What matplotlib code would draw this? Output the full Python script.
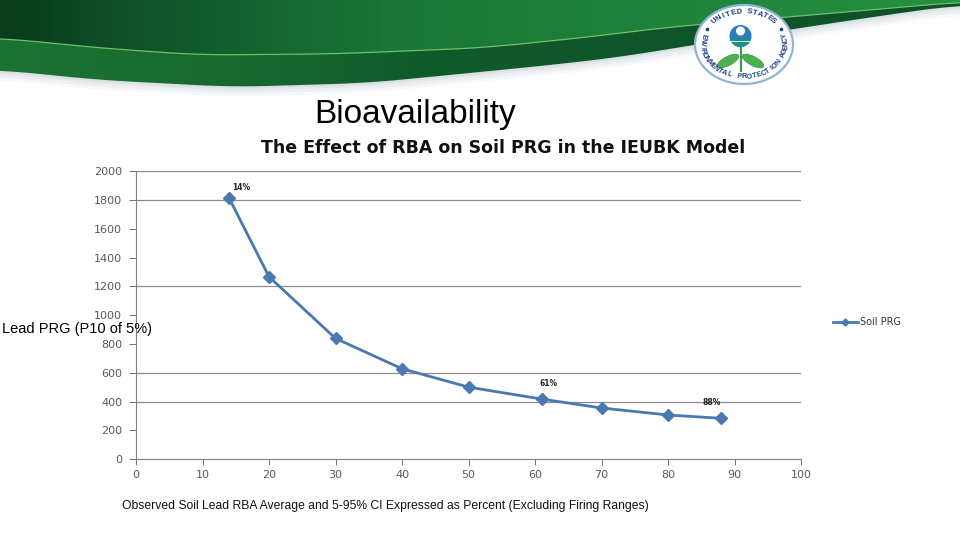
import matplotlib

matplotlib.use("Agg")

import matplotlib.pyplot as plt
import numpy as np
from matplotlib.colors import LinearSegmentedColormap
from matplotlib.patches import Circle, Ellipse, Polygon, Rectangle

plt.rcParams["font.family"] = ["Liberation Sans", "DejaVu Sans"]

# data
rba_pct = [14, 20, 30, 40, 50, 61, 70, 80, 88]
soil_prg = [1815, 1268, 839, 628, 500, 417, 355, 306, 283]
labelled_points = {14: "14%", 61: "61%", 88: "88%"}
x_ticks = list(range(0, 101, 10))
y_ticks = list(range(0, 2001, 200))
shown_gridlines = [400, 600, 1200, 1800, 2000]

# label offsets in points (styling only)
label_offsets = {14: (8.5, 7.5), 61: (5, 11.5), 88: (-7, 11.5)}

LINE_COLOUR = "#4a78b0"
GRID_COLOUR = "#8c8c8c"
TICK_COLOUR = "#5a5a5a"
SEAL_BLUE = "#1f3f8a"


def smooth_curve(xs, anchor_x, anchor_y, width=31):
    raw = np.interp(xs, anchor_x, anchor_y)
    pad = width // 2
    padded = np.r_[np.full(pad, raw[0]), raw, np.full(pad, raw[-1])]
    return np.convolve(padded, np.ones(width) / width, mode="valid")


fig = plt.figure(figsize=(9.6, 5.4), dpi=100)
fig.patch.set_facecolor("white")

# background layer in pixel coordinates (y from top)
bg = fig.add_axes([0, 0, 1, 1], zorder=0)
bg.axis("off")

xs = np.linspace(0, 960, 400)
light_edge = smooth_curve(xs, [0, 100, 200, 330, 480, 580, 670, 800, 960], [38, 48, 55, 54, 48, 38, 27, 16, 2])
dark_edge = smooth_curve(xs, [0, 100, 233, 367, 480, 560, 620, 700, 800, 900, 960],
                         [70, 80, 87, 83, 72, 64, 57, 44, 28, 13, 5])

for shift, alpha in [(10, 0.15), (7, 0.2), (4, 0.3), (2, 0.35)]:
    bg.add_patch(Polygon(np.column_stack([np.r_[xs, xs[::-1]], np.r_[dark_edge + shift, np.zeros_like(xs)]]),
                         closed=True, facecolor="#c9d3da", edgecolor="none", alpha=alpha, zorder=1))

upper_cmap = LinearSegmentedColormap.from_list(
    "upper", [(0, "#093b1c"), (0.15, "#0f5429"), (0.4, "#1a7536"), (0.7, "#1f833c"), (1, "#26903f")])
lower_cmap = LinearSegmentedColormap.from_list(
    "lower", [(0, "#1c7434"), (0.25, "#17682f"), (0.45, "#115a2b"), (0.7, "#0f552a"), (1, "#0e5228")])
grad = np.linspace(0, 1, 256).reshape(1, -1)

lower_poly = Polygon(np.column_stack([np.r_[xs, xs[::-1]], np.r_[dark_edge, np.zeros_like(xs)]]),
                     closed=True, facecolor="none", edgecolor="none")
bg.add_patch(lower_poly)
lower_img = bg.imshow(grad, cmap=lower_cmap, extent=(0, 960, 100, 0), aspect="auto", zorder=2)
lower_img.set_clip_path(lower_poly)

upper_poly = Polygon(np.column_stack([np.r_[xs, xs[::-1]], np.r_[light_edge, np.zeros_like(xs)]]),
                     closed=True, facecolor="none", edgecolor="none")
bg.add_patch(upper_poly)
upper_img = bg.imshow(grad, cmap=upper_cmap, extent=(0, 960, 100, 0), aspect="auto", zorder=3)
upper_img.set_clip_path(upper_poly)
bg.plot(xs, light_edge, color="#6fbf6a", linewidth=0.9, zorder=4)

bg.set_xlim(0, 960)
bg.set_ylim(540, 0)

# EPA seal
cx, cy, rx, ry = 744, 44.5, 49, 39.5
bg.add_patch(Ellipse((cx, cy), 2 * rx, 2 * ry, facecolor="white", edgecolor="#8fb4dc", linewidth=1.6, zorder=5))
bg.add_patch(Circle((740.5, 36), 11, facecolor="#2b7cc4", edgecolor="none", zorder=6))
bg.add_patch(Circle((740.5, 31), 4.5, facecolor="white", edgecolor="none", zorder=7))
water = Rectangle((729, 38), 24, 10, facecolor="#1c8f8a", edgecolor="none", zorder=7)
bg.add_patch(water)
water.set_clip_path(Circle((740.5, 36), 11, transform=bg.transData))
bg.plot([731, 750], [41, 41], color="white", linewidth=0.6, zorder=8)
bg.add_patch(Ellipse((728, 61), 24, 9, angle=-28, facecolor="#4caf50", edgecolor="#2e8b3e", linewidth=0.4, zorder=6))
bg.add_patch(Ellipse((753, 61), 24, 9, angle=28, facecolor="#4caf50", edgecolor="#2e8b3e", linewidth=0.4, zorder=6))
bg.plot([740.5, 740.5], [47, 71], color="#3d9e45", linewidth=1.6, zorder=6)

ar, br = rx - 7, ry - 7
top_text = "UNITED STATES"
for k, ch in enumerate(top_text):
    ang = np.deg2rad(134 - k * (88 / (len(top_text) - 1)))
    bg.text(cx + ar * np.cos(ang), cy - br * np.sin(ang), ch, fontsize=5.6, color=SEAL_BLUE,
            rotation=np.rad2deg(ang) - 90, ha="center", va="center", fontweight="bold", zorder=8)
bottom_text = "ENVIRONMENTAL PROTECTION AGENCY"
for k, ch in enumerate(bottom_text):
    ang = np.deg2rad(164 + k * (212 / (len(bottom_text) - 1)))
    bg.text(cx + ar * np.cos(ang), cy - br * np.sin(ang), ch, fontsize=5.2, color=SEAL_BLUE,
            rotation=np.rad2deg(ang) + 90, ha="center", va="center", fontweight="bold", zorder=8)
for ang in np.deg2rad([151, 29]):
    bg.plot(cx + ar * np.cos(ang), cy - br * np.sin(ang), "o", color=SEAL_BLUE, markersize=1.6, zorder=8)

fig.text(415 / 960, 1 - 114 / 540, "Bioavailability", fontsize=24, ha="center", va="center")
fig.text(503 / 960, 1 - 148 / 540, "The Effect of RBA on Soil PRG in the IEUBK Model",
         fontsize=12.5, fontweight="bold", ha="center", va="center", color="#111111",
         family="DejaVu Sans")

ax = fig.add_axes([136 / 960, 1 - 459 / 540, (801 - 136) / 960, (459 - 171.5) / 540], zorder=2)
ax.patch.set_alpha(0)
ax.plot(rba_pct, soil_prg, color=LINE_COLOUR, linewidth=2, marker="D", markersize=6.5,
        markerfacecolor=LINE_COLOUR, markeredgecolor=LINE_COLOUR, label="Soil PRG", zorder=3)
for x, y in zip(rba_pct, soil_prg):
    if x in labelled_points:
        ax.annotate(labelled_points[x], (x, y), xytext=label_offsets[x], textcoords="offset points",
                    fontsize=5.5, ha="center", va="center", color="#222222",
                    family="DejaVu Sans", fontweight="bold")

ax.set_xlim(0, 100)
ax.set_ylim(0, 2000)
ax.set_xticks(x_ticks)
ax.set_yticks(y_ticks)
ax.yaxis.grid(True, color=GRID_COLOUR, linewidth=0.9)
for tick_value, line in zip(y_ticks, ax.get_ygridlines()):
    line.set_visible(tick_value in shown_gridlines)
ax.set_axisbelow(True)
ax.tick_params(axis="both", labelsize=8, colors=TICK_COLOUR, length=4, width=0.6, direction="out")
ax.tick_params(axis="y", length=5, pad=5)
ax.tick_params(axis="x", pad=4)
for lbl in ax.get_xticklabels() + ax.get_yticklabels():
    lbl.set_family("DejaVu Sans")
for side in ["top", "right"]:
    ax.spines[side].set_visible(False)
for side in ["left", "bottom"]:
    ax.spines[side].set_color("#808080")
    ax.spines[side].set_linewidth(0.8)

fig.text(2 / 960, 1 - 329 / 540, "Lead PRG (P10 of 5%)", fontsize=10.5, ha="left", va="center", zorder=5)
fig.text(385 / 960, 1 - 506 / 540,
         "Observed Soil Lead RBA Average and 5-95% CI Expressed as Percent (Excluding Firing Ranges)",
         fontsize=8.75, ha="center", va="center", color="#111111")

leg = fig.legend(loc="center left", bbox_to_anchor=(824 / 960, 1 - 322 / 540), frameon=False,
                 fontsize=7, handlelength=2.6, handletextpad=0.25, markerscale=0.55)
for txt in leg.get_texts():
    txt.set_family("DejaVu Sans")
    txt.set_color("#333333")

fig.savefig("out.png", dpi=100)
